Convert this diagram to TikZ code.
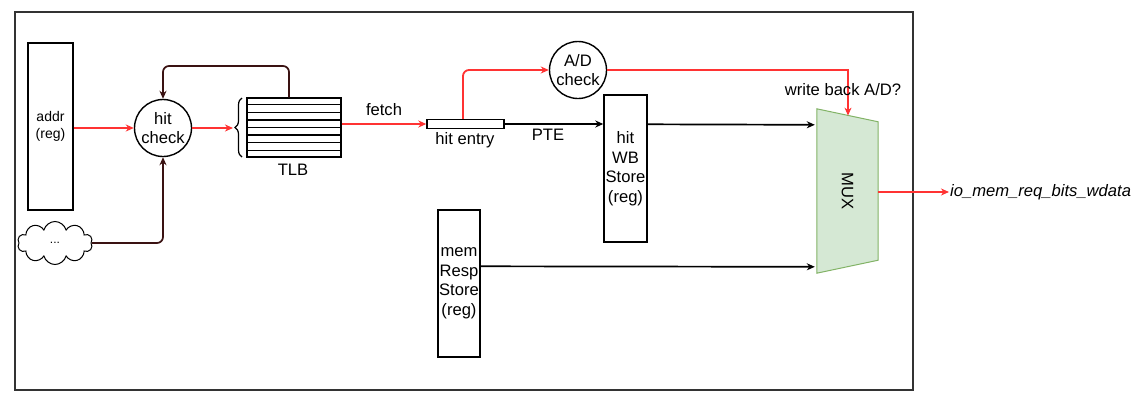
\documentclass[tikz,border=0pt]{standalone}
\usepackage{fontspec}
\setmainfont{Liberation Sans}
\usetikzlibrary{arrows.meta,calc,shapes.geometric,shapes.symbols,decorations.pathreplacing,positioning}
\definecolor{linkred}{HTML}{FF3333}
\definecolor{loopbrown}{HTML}{3A1212}
\definecolor{muxfill}{HTML}{D5E8D4}
\definecolor{muxdraw}{HTML}{82B366}
\definecolor{framegray}{HTML}{333333}

\begin{document}
\begin{tikzpicture}[x=1pt, y=-1pt,
  font=\fontsize{16.6}{19.5}\selectfont,
  reg/.style={draw, line width=1.4pt, inner sep=0pt, align=center},
  chk/.style={draw, circle, line width=1.4pt, inner sep=0pt,
    minimum size=57pt, align=center},
  tip/.style={-{Stealth[length=8pt,width=7pt,inset=2.5pt]}},
  redarr/.style={tip, draw=linkred, line width=1.8pt},
  thinred/.style={tip, draw=linkred, line width=1.1pt},
  blkarr/.style={tip, draw=black, line width=1.7pt},
  brnarr/.style={tip, draw=loopbrown, line width=1.7pt, rounded corners=6pt}]
  \useasboundingbox (0,0) rectangle (1138,402);
  % outer frame
  \draw[framegray, line width=1.8pt] (15,12) rectangle (913,390);

  % Front end: address, hit check, TLB
  \node[reg, minimum width=45, minimum height=167,
    font=\fontsize{14}{17}\selectfont] (addr) at (50.5,126.5) {addr\\(reg)};
  \node[chk] (hit) at (163,128) {hit\\check};
  \node[draw, cloud, cloud puffs=10, cloud ignores aspect, line width=1pt,
    minimum width=75, minimum height=43, inner sep=0pt,
    font=\fontsize{12}{14}\selectfont] (misc) at (55,243) {...};
  \node[draw, line width=1.4pt, minimum width=94, minimum height=59,
    inner sep=0pt] (tlb) at (294,127.5) {};
  \foreach \k in {1,...,7}
    \draw[line width=1.2pt] ($(tlb.north west)!\k/8!(tlb.south west)$)
      -- ($(tlb.north east)!\k/8!(tlb.south east)$);
  \node (tlblbl) at (293,170) {TLB};
  \draw[line width=1.2pt, decorate, decoration={brace, amplitude=7pt}]
    (242,157) -- (242,98);
  \coordinate (brace) at (233,128);

  \draw[redarr] (addr.east |- hit.west) -- (hit.west);
  \draw[redarr] (hit.east) -- (brace);
  \draw[brnarr] (misc.east) -| (hit.south);
  \draw[brnarr] (tlb.north -| 289,0) |- (163,66) -- (hit.north);

  % Page table entry path
  \node[draw, line width=1.4pt, minimum width=77, minimum height=9,
    inner sep=0pt] (entry) at (465.5,124) {};
  \node (entrylbl) at (465,140) {hit entry};
  \draw[redarr] (tlb.east |- entry.west) -- node[above=4pt, text=black] {fetch} (entry.west);
  \node[chk] (adck) at (578,70) {A/D\\check};
  \draw[redarr, rounded corners=6pt] (entry.north -| 463,0) |- (adck.west);
  \node[reg, minimum width=43, minimum height=147] (wb) at (625.5,168.5)
    {hit\\WB\\Store\\(reg)};
  \draw[blkarr] (entry.east) -- (wb.west |- entry.east);
  \node (pte) at (548,135) {PTE};
  \node[reg, minimum width=42, minimum height=147] (mem) at (459,283.5)
    {mem\\Resp\\Store\\(reg)};

  % MUX
  \node[minimum width=61, minimum height=164, inner sep=0pt] (mux) at (847.5,191) {};
  \filldraw[fill=muxfill, draw=muxdraw, line width=1pt]
    (mux.north west) -- ($(mux.north east)+(0,13)$)
    -- ($(mux.south east)+(0,-13)$) -- (mux.south west) -- cycle;
  \node[rotate=-90] (muxlbl) at (mux.center) {MUX};
  \coordinate (muxtop) at (848,115.6);
  \coordinate (out) at (949,192);

  \draw[blkarr] ($(wb.north east)+(0,30)$) -- ($(mux.north west)+(-2,16)$);
  \draw[blkarr] ($(mem.north east)+(0,57)$) -- ($(mux.north west)+(-2,158)$);
  \draw[thinred] (adck.east) -| (muxtop);
  \node (wback) at (843,90) {write back A/D?};
  \draw[thinred] ($(mux.east)+(0,1)$) -- (out);
  \node[anchor=west, inner sep=1pt, font=\fontsize{16.6}{19.5}\selectfont\itshape]
    (wdata) at (out) {io\_mem\_req\_bits\_wdata};
\end{tikzpicture}
\end{document}
